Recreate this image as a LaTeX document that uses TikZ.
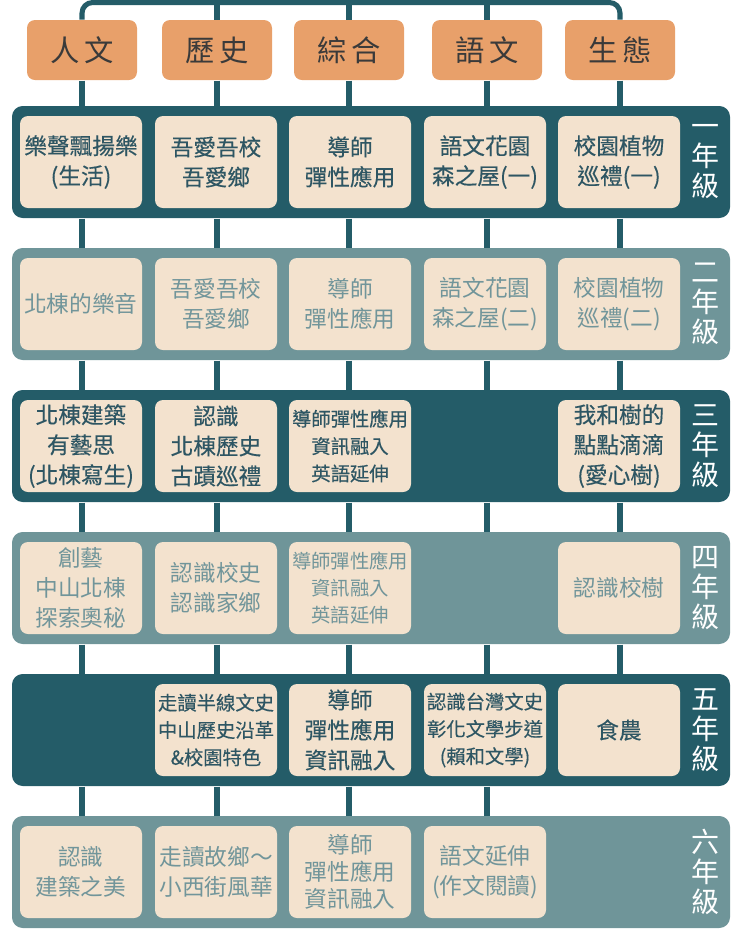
\documentclass[tikz,border=0pt]{standalone}
\usepackage{fontspec}
\setmainfont{Noto Sans CJK TC}
\newfontfamily\cjkmid[FakeBold=0.3]{Noto Sans CJK TC}

\definecolor{darkteal}{HTML}{245C68}
\definecolor{grayteal}{HTML}{6F9599}
\definecolor{beige}{HTML}{F3E2CE}
\definecolor{hdrorange}{HTML}{E8A06A}
\definecolor{hdrtext}{HTML}{3A3A3A}
\definecolor{darktext}{HTML}{2E5663}
\definecolor{graytext}{HTML}{71959A}

\tikzset{every picture/.style={line width=0.75pt}}

\begin{document}
\begin{tikzpicture}[x=0.75pt,y=0.75pt,yscale=-1,xscale=1,
  link/.style={draw=darkteal, line width=3.8pt},
  header/.style={fill=hdrorange, rounded corners=6pt, minimum width=82.5pt, minimum height=45pt, inner sep=0pt, text=hdrtext, font=\fontsize{22}{24}\selectfont},
  band/.style={rounded corners=8pt, minimum width=538.5pt, minimum height=84pt, inner sep=0pt},
  darkband/.style={band, fill=darkteal},
  grayband/.style={band, fill=grayteal},
  cell/.style={fill=beige, rounded corners=6pt, minimum width=91.5pt, minimum height=69pt, inner sep=0pt, align=center, font=\fontsize{17}{22.5}\selectfont},
  darkcell/.style={cell, text=darktext, font=\cjkmid\fontsize{17}{22.5}\selectfont},
  graycell/.style={cell, text=graytext},
  small/.style={font=\cjkmid\fontsize{14.5}{20.5}\selectfont},
  graysmall/.style={font=\fontsize{14.5}{20.5}\selectfont},
  grade/.style={text=white, align=center, inner sep=0pt, font=\fontsize{21}{22.5}\selectfont}
]
\useasboundingbox (0,0) rectangle (739,933);

% Headers
\node [header] (h1) at (82,50) {人\,文};
\node [header] (h2) at (217,50) {歷\,史};
\node [header] (h3) at (349,50) {綜\,合};
\node [header] (h4) at (487,50) {語\,文};
\node [header] (h5) at (620,50) {生\,態};

% Bands
\node [darkband] (b1) at (371,162) {};
\node [grayband] (b2) at (371,304) {};
\node [darkband] (b3) at (371,446) {};
\node [grayband] (b4) at (371,588) {};
\node [darkband] (b5) at (371,730) {};
\node [grayband] (b6) at (371,872) {};

% Links
\draw [link, rounded corners=8pt] (h1.north) -- ++(0,-17) -| (h5.north);
\foreach \c in {2,3,4} {
  \draw [link] (h\c.north) -- ++(0,-17);
}
\foreach \c in {1,...,5} {
  \draw [link] (h\c.south) -- (h\c.south |- b1.north);
  \foreach \r/\s in {1/2,2/3,3/4,4/5} {
    \draw [link] (h\c.south |- b\r.south) -- (h\c.south |- b\s.north);
  }
}
\foreach \c in {1,...,4} {
  \draw [link] (h\c.south |- b5.south) -- (h\c.south |- b6.north);
}

% Grade labels
\node [grade] (g1) at (705,162) {一\\年\\級};
\node [grade] (g2) at (705,304) {二\\年\\級};
\node [grade] (g3) at (705,446) {三\\年\\級};
\node [grade] (g4) at (705,588) {四\\年\\級};
\node [grade] (g5) at (705,730) {五\\年\\級};
\node [grade] (g6) at (705,872) {六\\年\\級};

% Year 1
\node [darkcell] (c11) at (81,162) {樂聲飄揚樂\\(生活)};
\node [darkcell] (c12) at (216,162) {吾愛吾校\\吾愛鄉};
\node [darkcell] (c13) at (350,162) {導師\\彈性應用};
\node [darkcell] (c14) at (485,162) {語文花園\\森之屋(一)};
\node [darkcell] (c15) at (619,162) {校園植物\\巡禮(一)};

% Year 2
\node [graycell] (c21) at (81,304) {北棟的樂音};
\node [graycell] (c22) at (216,304) {吾愛吾校\\吾愛鄉};
\node [graycell] (c23) at (350,304) {導師\\彈性應用};
\node [graycell] (c24) at (485,304) {語文花園\\森之屋(二)};
\node [graycell] (c25) at (619,304) {校園植物\\巡禮(二)};

% Year 3
\node [darkcell] (c31) at (81,446) {北棟建築\\有藝思\\(北棟寫生)};
\node [darkcell] (c32) at (216,446) {認識\\北棟歷史\\古蹟巡禮};
\node [darkcell, small] (c33) at (350,446) {導師彈性應用\\資訊融入\\英語延伸};
\node [darkcell] (c35) at (619,446) {我和樹的\\點點滴滴\\(愛心樹)};

% Year 4
\node [graycell] (c41) at (81,588) {創藝\\中山北棟\\探索奧秘};
\node [graycell] (c42) at (216,588) {認識校史\\認識家鄉};
\node [graycell, graysmall] (c43) at (350,588) {導師彈性應用\\資訊融入\\英語延伸};
\node [graycell] (c45) at (619,588) {認識校樹};

% Year 5
\node [darkcell, small] (c52) at (216,730) {走讀半線文史\\中山歷史沿革\\\&校園特色};
\node [darkcell] (c53) at (350,730) {導師\\彈性應用\\資訊融入};
\node [darkcell, small] (c54) at (485,730) {認識台灣文史\\彰化文學步道\\(賴和文學)};
\node [darkcell] (c55) at (619,730) {食農};

% Year 6
\node [graycell] (c61) at (81,872) {認識\\建築之美};
\node [graycell] (c62) at (216,872) {走讀故鄉～\\小西街風華};
\node [graycell, font=\fontsize{17}{20}\selectfont] (c63) at (350,872) {導師\\彈性應用\\資訊融入};
\node [graycell] (c64) at (485,872) {語文延伸\\(作文閱讀)};

\end{tikzpicture}
\end{document}
